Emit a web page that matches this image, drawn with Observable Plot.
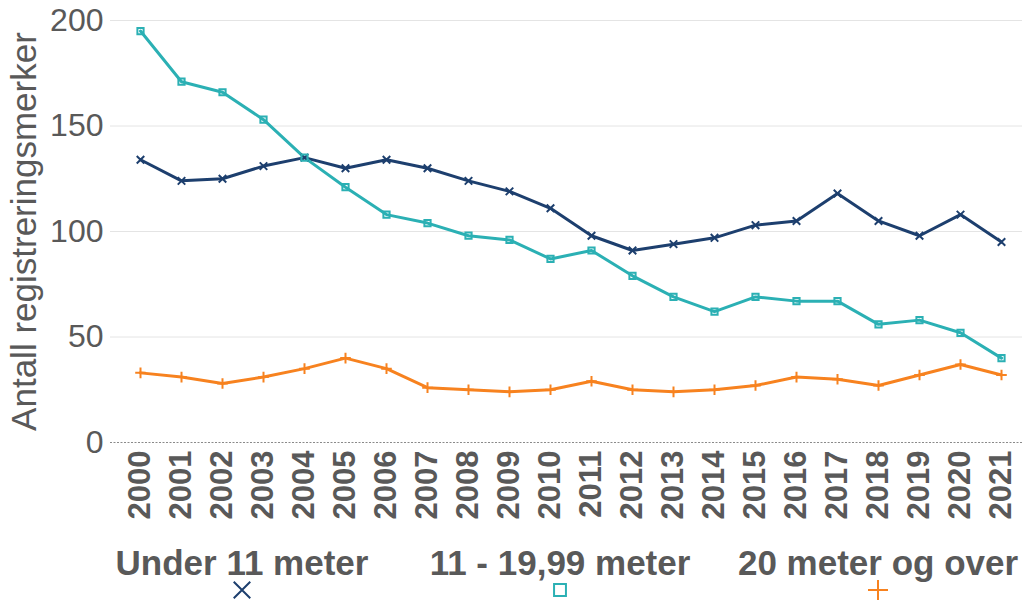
<!DOCTYPE html>
<html><head><meta charset="utf-8">
<script src="https://cdn.jsdelivr.net/npm/d3@7"></script>
<script src="https://cdn.jsdelivr.net/npm/@observablehq/plot@0.6"></script>
<style>
body{margin:0;background:#fff;font-family:"Liberation Sans",Arial,sans-serif;}
#wrap{position:relative;width:1022px;height:600px;overflow:hidden;background:#fff}
#legend{position:absolute;left:0;top:540px;width:1022px;height:60px}
.item{position:absolute;top:5px;width:380px;margin-left:-190px;text-align:center;color:#595959;font-weight:bold;font-size:35px;line-height:35px;white-space:nowrap}
.sym{position:absolute;top:40px;width:20px;height:20px;margin-left:-10px}
svg [aria-label="x-axis tick label"]{font-weight:bold}
svg [aria-label="y-axis label"]{font-size:35px}
</style></head><body><div id="wrap"><div id="chart"></div><div id="legend"></div></div>
<script>
const years = [2000,2001,2002,2003,2004,2005,2006,2007,2008,2009,2010,2011,2012,2013,2014,2015,2016,2017,2018,2019,2020,2021];
const under11 = [134,124,125,131,135,130,134,130,124,119,111,98,91,94,97,103,105,118,105,98,108,95];
const mid11to20 = [195,171,166,153,135,121,108,104,98,96,87,91,79,69,62,69,67,67,56,58,52,40];
const over20 = [33,31,28,31,35,40,35,26,25,24,25,29,25,24,25,27,31,30,27,32,37,32];
const seriesNames = ["Under 11 meter","11 - 19,99 meter","20 meter og over"];
const seriesColors = ["#1d3f6e","#2bb0b4","#f7821f"];
const seriesSymbols = ["times","square","plus"];
const yTicks = [0,50,100,150,200];
const legendCenters = [242,560,878];

const seriesValues = [under11, mid11to20, over20];
const data = [];
seriesNames.forEach((s,i)=>years.forEach((y,j)=>data.push({series:s, year:y, value:seriesValues[i][j]})));

const chart = Plot.plot({
  width:1022, height:540, marginTop:20, marginBottom:98, marginLeft:110, marginRight:0,
  style:{fontFamily:"'Liberation Sans', Arial, sans-serif", color:"#595959", background:"white", overflow:"visible"},
  x:{type:"point", domain:years, range:[134,1007], padding:0, label:null},
  y:{domain:[0,200]},
  color:{domain:seriesNames, range:seriesColors},
  symbol:{domain:seriesNames, range:seriesSymbols},
  marks:[
    Plot.gridY(yTicks.filter(d=>d>0), {stroke:"#e4e4e4", strokeOpacity:1}),
    Plot.ruleY([0], {stroke:"#8a8a8a", strokeDasharray:"2,1.5"}),
    Plot.axisY({ticks:yTicks, tickSize:0, tickPadding:7, fontSize:32, label:"Antall registreringsmerker", labelAnchor:"center", labelArrow:"none", labelOffset:99}),
    Plot.axisX({tickRotate:-90, fontSize:31, tickSize:0, tickPadding:8, tickFormat:d=>String(d)}),
    Plot.line(data,{x:"year", y:"value", stroke:"series", strokeWidth:3}),
    Plot.dot(data,{x:"year", y:"value", symbol:"series", stroke:"series", r:3.5, strokeWidth:2})
  ]
});
document.getElementById("chart").appendChild(chart);

const legend = document.getElementById("legend");
seriesNames.forEach((s,i)=>{
  const t = document.createElement("div");
  t.className = "item"; t.style.left = legendCenters[i]+"px"; t.textContent = s;
  legend.appendChild(t);
  const svg = d3.create("svg").attr("class","sym").attr("width",20).attr("height",20).style("left", legendCenters[i]+"px");
  const sym = {times:d3.symbolTimes, square:d3.symbolSquare2, plus:d3.symbolPlus}[seriesSymbols[i]];
  svg.append("path").attr("transform","translate(10,10)").attr("d", d3.symbol(sym, 180)())
    .attr("fill","none").attr("stroke", seriesColors[i]).attr("stroke-width",2);
  legend.appendChild(svg.node());
});
</script></body></html>
